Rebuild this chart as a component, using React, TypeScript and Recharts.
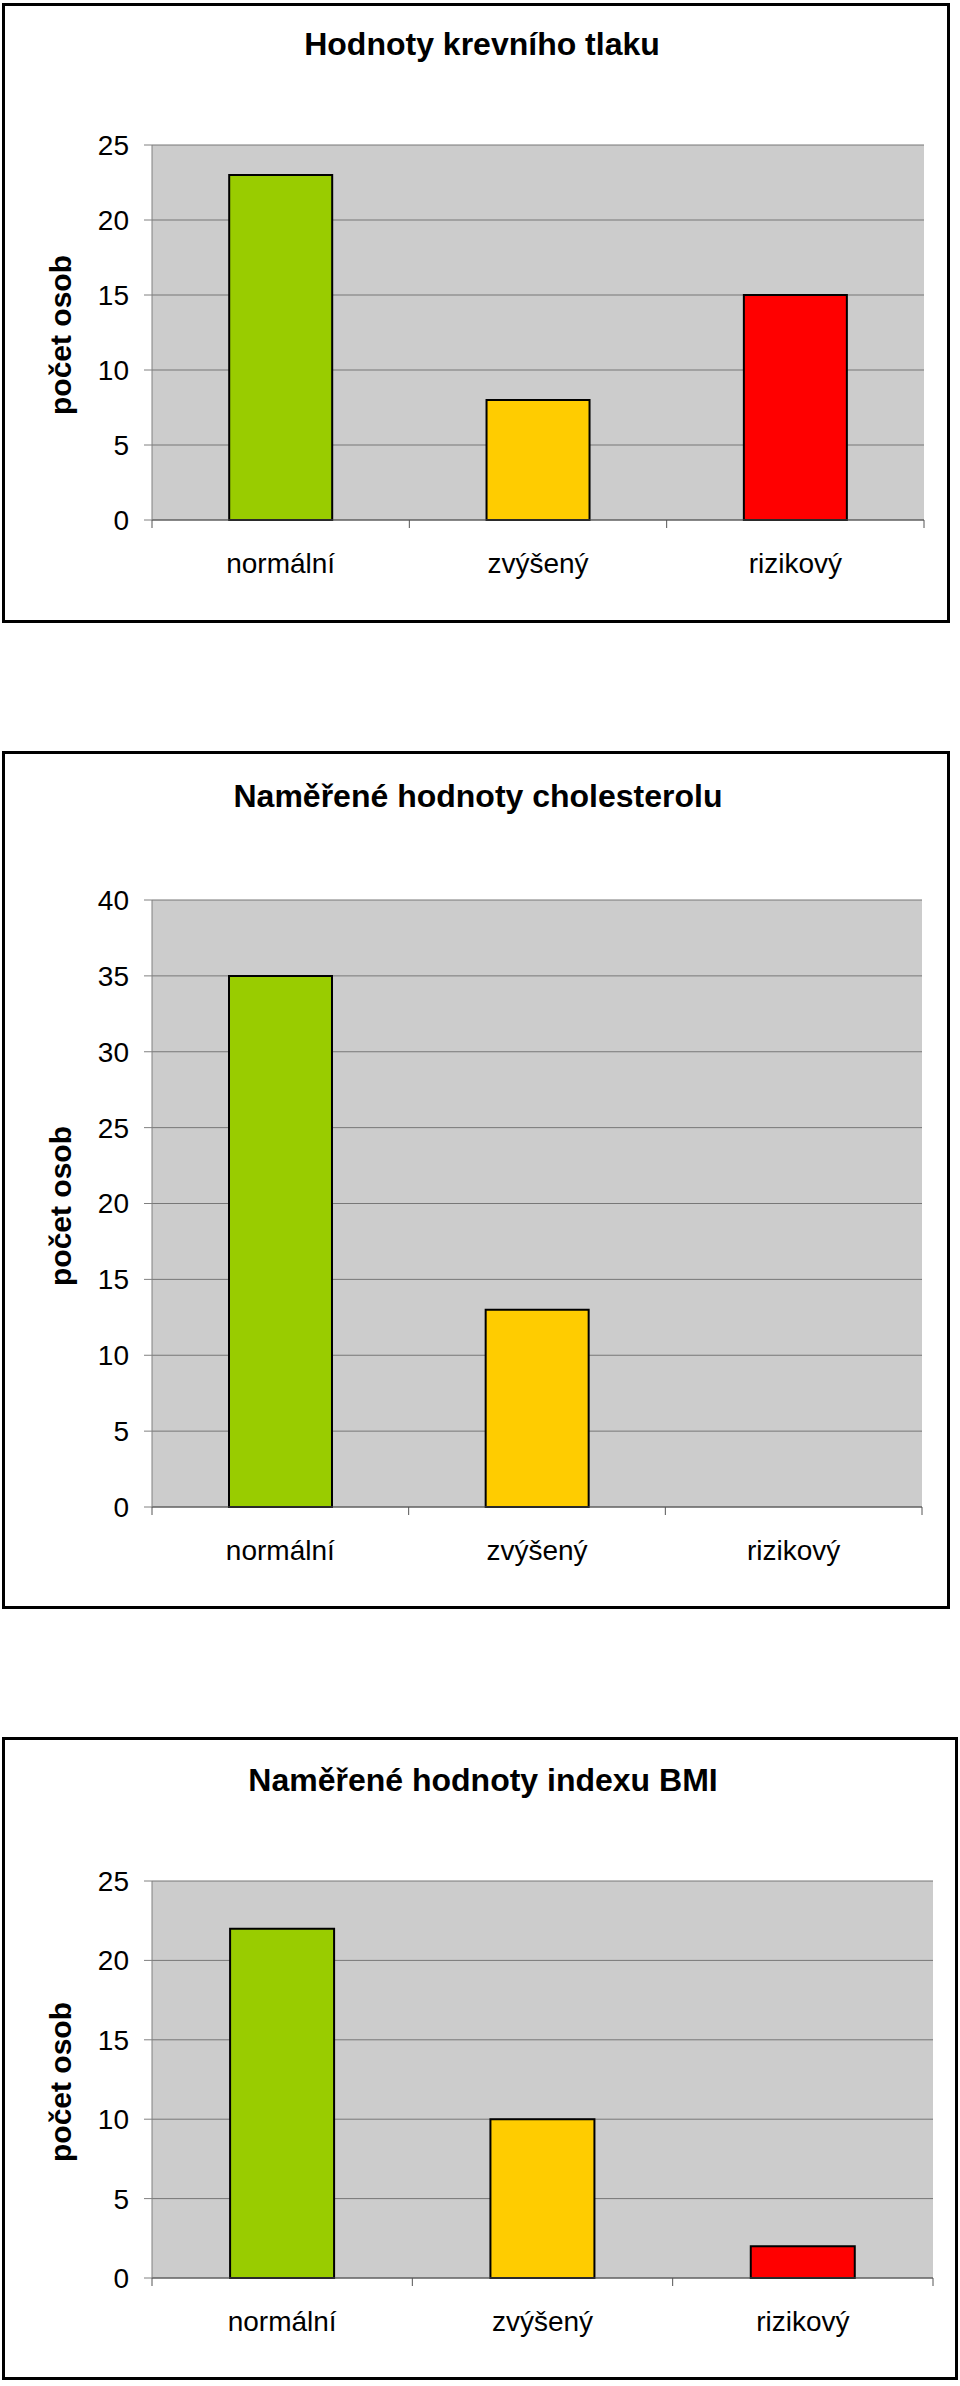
import { BarChart, Bar, XAxis, YAxis, CartesianGrid, Cell } from 'recharts'

const FONT = '"Liberation Sans", Arial, sans-serif'

const categories = ['normální', 'zvýšený', 'rizikový']
const barColors = ['#99CC00', '#FFCC00', '#FF0000']

const pressureValues = [23, 8, 15]
const cholesterolValues = [35, 13, 0]
const bmiValues = [22, 10, 2]

const pressureTicks = [0, 5, 10, 15, 20, 25]
const cholesterolTicks = [0, 5, 10, 15, 20, 25, 30, 35, 40]
const bmiTicks = [0, 5, 10, 15, 20, 25]

const yLabel = 'počet osob'

const Y_AXIS_W = 100
const X_AXIS_H = 60
const LABEL_GAP = 33

type Layout = {
  boxTop: number
  boxH: number
  boxW: number
  plotTop: number
  plotBottom: number
  plotRight: number
  titleX: number
  titleBaseline: number
}

function makeTick(band: number) {
  return (p: any) => {
    const { x, y, payload, index, visibleTicksCount } = p
    const half = band / 2
    const ay = y - LABEL_GAP
    return (
      <g>
        <line x1={x - half} x2={x - half} y1={ay} y2={ay + 8} stroke="#555" />
        {index === visibleTicksCount - 1 && (
          <line x1={x + half} x2={x + half} y1={ay} y2={ay + 8} stroke="#555" />
        )}
        <text x={x} y={y} dy="0.71em" textAnchor="middle" fontSize={28} fill="#000" fontFamily={FONT}>
          {payload.value}
        </text>
      </g>
    )
  }
}

function Panel({ title, values, ticks, l }: { title: string; values: number[]; ticks: number[]; l: Layout }) {
  const data = categories.map((name, i) => ({ name, value: values[i] }))
  const margin = {
    top: l.plotTop - l.boxTop,
    left: 152 - Y_AXIS_W,
    right: 960 - l.plotRight,
    bottom: l.boxTop + l.boxH - l.plotBottom - X_AXIS_H,
  }
  const band = (l.plotRight - 152) / categories.length
  const mid = (l.plotTop + l.plotBottom) / 2
  return (
    <>
      <div
        style={{
          position: 'absolute',
          left: 2,
          top: l.boxTop,
          width: l.boxW,
          height: l.boxH,
          border: '3px solid #000',
          boxSizing: 'border-box',
        }}
      />
      <div
        style={{
          position: 'absolute',
          left: l.titleX - 400,
          width: 800,
          top: l.titleBaseline - 27,
          textAlign: 'center',
          fontFamily: FONT,
          fontWeight: 'bold',
          fontSize: 32,
          lineHeight: '32px',
        }}
      >
        {title}
      </div>
      <div style={{ position: 'absolute', left: 0, top: l.boxTop }}>
        <BarChart width={960} height={l.boxH} data={data} margin={margin} barCategoryGap="30%" style={{ fontFamily: FONT }}>
          <CartesianGrid vertical={false} stroke="#777" fill="#CCCCCC" fillOpacity={1} />
          <XAxis
            dataKey="name"
            height={X_AXIS_H}
            interval={0}
            tickLine={false}
            tickSize={0}
            tickMargin={LABEL_GAP}
            axisLine={{ stroke: '#555' }}
            tick={makeTick(band)}
          />
          <YAxis
            type="number"
            domain={[0, ticks[ticks.length - 1]]}
            ticks={ticks}
            interval={0}
            width={Y_AXIS_W}
            tickSize={8}
            tickMargin={15}
            axisLine={{ stroke: '#808080' }}
            tickLine={{ stroke: '#808080' }}
            tick={{ fill: '#000', fontSize: 28, fontFamily: FONT }}
          />
          <YAxis
            yAxisId="right"
            orientation="right"
            width={0}
            domain={[0, 1]}
            tick={false}
            tickLine={false}
            axisLine={{ stroke: '#909090', strokeWidth: 1.5 }}
          />
          <Bar dataKey="value" stroke="#000" strokeWidth={2} isAnimationActive={false}>
            {data.map((d, i) => (
              <Cell key={d.name} fill={barColors[i]} />
            ))}
          </Bar>
        </BarChart>
      </div>
      <div
        style={{
          position: 'absolute',
          left: 61,
          top: mid + 2,
          transform: 'translate(-50%, -50%) rotate(-90deg)',
          whiteSpace: 'nowrap',
          fontFamily: FONT,
          fontWeight: 'bold',
          fontSize: 30,
          lineHeight: '30px',
        }}
      >
        {yLabel}
      </div>
    </>
  )
}

export default function App() {
  return (
    <div style={{ position: 'absolute', left: 0, top: 0, width: 960, height: 2386, background: '#fff' }}>
      <Panel
        title="Hodnoty krevního tlaku"
        values={pressureValues}
        ticks={pressureTicks}
        l={{ boxTop: 3, boxH: 620, boxW: 948, plotTop: 145, plotBottom: 520, plotRight: 924, titleX: 482, titleBaseline: 55 }}
      />
      <Panel
        title="Naměřené hodnoty cholesterolu"
        values={cholesterolValues}
        ticks={cholesterolTicks}
        l={{ boxTop: 751, boxH: 858, boxW: 948, plotTop: 900, plotBottom: 1507, plotRight: 922, titleX: 478, titleBaseline: 807 }}
      />
      <Panel
        title="Naměřené hodnoty indexu BMI"
        values={bmiValues}
        ticks={bmiTicks}
        l={{ boxTop: 1737, boxH: 643, boxW: 956, plotTop: 1881, plotBottom: 2278, plotRight: 933, titleX: 483, titleBaseline: 1791 }}
      />
    </div>
  )
}
